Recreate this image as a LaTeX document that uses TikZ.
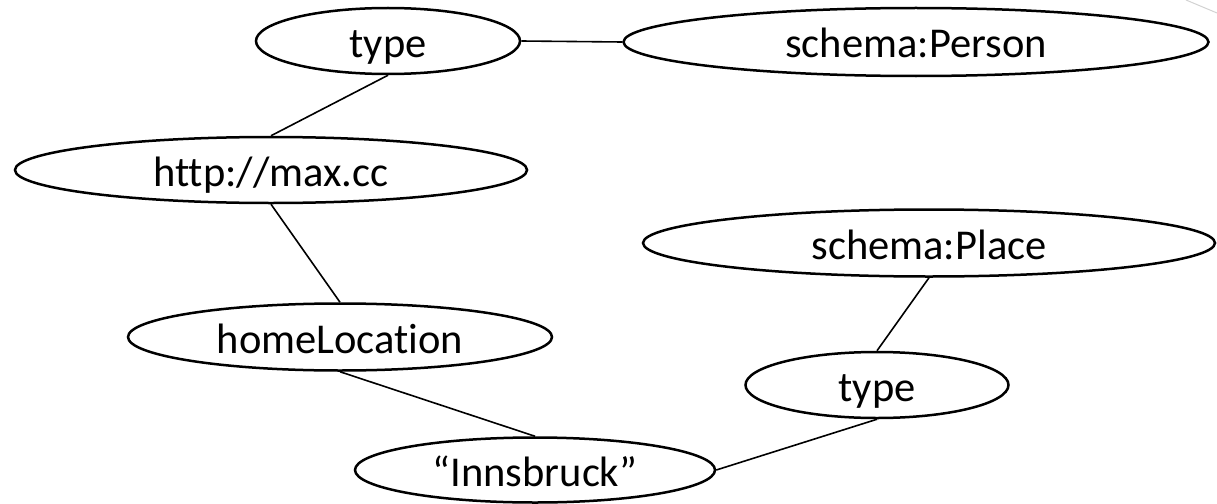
\documentclass[tikz,border=0pt]{standalone}
\usepackage{fontspec}
\setmainfont{Carlito}[Ligatures=NoCommon]
\usepackage{tikz}
\usetikzlibrary{shapes.geometric}

\begin{document}
\begin{tikzpicture}[x=1pt,y=-1pt,
  res/.style={ellipse, draw, line width=2.5pt, inner sep=0pt,
    font=\fontsize{42.5}{42.5}\selectfont, text height=32pt, text depth=0pt},
  edge/.style={line width=1.6pt}]
\useasboundingbox (0,0) rectangle (1217,503);

% resources and literals
\node [res, minimum width=264, minimum height=66] (type) at (388,41) {type};
\node [res, minimum width=585, minimum height=68] (person) at (916,42) {schema:Person};
\node [res, minimum width=512, minimum height=66] (max) at (271,170) {http://max.cc};
\node [res, minimum width=424, minimum height=67] (home) at (340,337) {homeLocation};
\node [res, minimum width=572, minimum height=67] (place) at (929,243) {schema:Place};
\node [res, minimum width=263, minimum height=66] (ptype) at (877,385) {type};
\node [res, minimum width=360, minimum height=65] (inn) at (535,470) {“Innsbruck”};

% links
\draw [edge] (type.east) -- (person.west);
\draw [edge] (type.south) -- (max.north);
\draw [edge] (max.south) -- (home.north);
\draw [edge] (home.south) -- (inn.north);
\draw [edge] (inn.east) -- (ptype.south);
\draw [edge] (ptype.north) -- (place.south);

\draw [gray!35, line width=1pt] (1186,0) -- (1217,13);
\end{tikzpicture}
\end{document}
